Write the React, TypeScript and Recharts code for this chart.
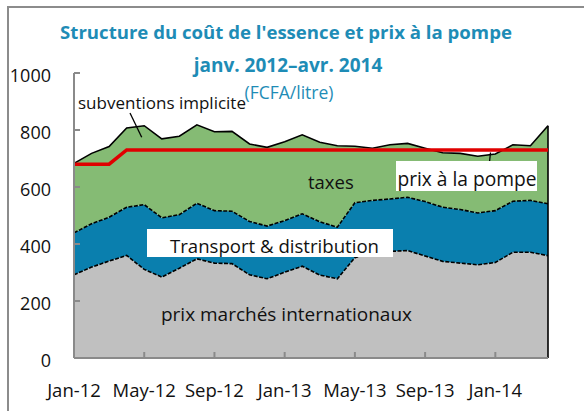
import React from 'react';
import { ComposedChart, Area, Line, XAxis, YAxis, ReferenceLine } from 'recharts';

const months = [
  'Jan-12', 'Feb-12', 'Mar-12', 'Apr-12', 'May-12', 'Jun-12', 'Jul-12', 'Aug-12', 'Sep-12', 'Oct-12', 'Nov-12', 'Dec-12',
  'Jan-13', 'Feb-13', 'Mar-13', 'Apr-13', 'May-13', 'Jun-13', 'Jul-13', 'Aug-13', 'Sep-13', 'Oct-13', 'Nov-13', 'Dec-13',
  'Jan-14', 'Feb-14', 'Mar-14', 'Apr-14',
];
const prixInternationaux = [292, 319, 340, 360, 311, 284, 315, 348, 333, 331, 292, 278, 301, 322, 291, 278, 352, 371, 374, 377, 358, 339, 333, 327, 335, 371, 371, 359];
const transportDistribution = [147, 152, 154, 169, 227, 208, 188, 195, 184, 184, 187, 185, 181, 184, 187, 181, 193, 182, 184, 187, 191, 190, 188, 182, 182, 179, 182, 182];
const taxesEtSubventions = [244, 247, 248, 278, 277, 277, 275, 275, 277, 280, 272, 276, 277, 277, 279, 286, 198, 183, 190, 189, 187, 191, 197, 199, 199, 198, 192, 274];
const prixPompe = [680, 680, 680, 730, 730, 730, 730, 730, 730, 730, 730, 730, 730, 730, 730, 730, 730, 730, 730, 730, 730, 730, 730, 730, 730, 730, 730, 730];
const yTicks = [0, 200, 400, 600, 800, 1000];

const data = months.map((m, i) => ({
  month: m,
  intl: prixInternationaux[i],
  transport: transportDistribution[i],
  taxes: taxesEtSubventions[i],
  pump: prixPompe[i],
  b1: prixInternationaux[i],
  b2: prixInternationaux[i] + transportDistribution[i],
  b3: prixInternationaux[i] + transportDistribution[i] + taxesEtSubventions[i],
}));

const FONT = '"Open Sans", sans-serif';
const AXIS = '#8a8a8a';
const TEAL = '#1e8cb6';
const GREY = '#c0c0c0';
const BLUE = '#0a7fae';
const GREEN = '#85bb74';
const RED = '#e00000';

const XTick = (props: any) => {
  const { x, y, payload, index } = props;
  return (
    <g>
      {index !== 0 && <line x1={x} y1={y} x2={x} y2={y - 6} stroke={AXIS} strokeWidth={2} />}
      <text x={x} y={y + 39} textAnchor="middle" fontFamily={FONT} fontSize={18.5} fill="#111">
        {payload.value}
      </text>
    </g>
  );
};

const YTick = (props: any) => {
  const { x, y, payload } = props;
  return (
    <g>
      <line x1={x} y1={y} x2={x + 6} y2={y} stroke={AXIS} strokeWidth={2} />
      <text x={x - 23} y={y + 9} textAnchor="end" fontFamily={FONT} fontSize={18} fill="#111">
        {payload.value}
      </text>
    </g>
  );
};

export default function App() {
  const last = data.length - 1;
  return (
    <div style={{ position: 'absolute', left: 0, top: 0, width: 584, height: 411, background: '#fff' }}>
      <ComposedChart
        width={584}
        height={411}
        data={data}
        margin={{ top: 73, right: 36, bottom: 23, left: 0 }}
      >
        <XAxis
          dataKey="month"
          scale="point"
          padding={{ left: 0, right: 0 }}
          interval={3}
          tickLine={false}
          tickSize={0}
          tickMargin={0}
          height={30}
          axisLine={{ stroke: AXIS, strokeWidth: 2 }}
          tick={<XTick />}
        />
        <YAxis
          domain={[0, 1000]}
          ticks={yTicks}
          width={74}
          tickLine={false}
          tickSize={0}
          tickMargin={0}
          axisLine={{ stroke: AXIS, strokeWidth: 2 }}
          tick={<YTick />}
        />
        <Area type="linear" dataKey="intl" stackId="s" fill={GREY} fillOpacity={1} stroke="none" isAnimationActive={false} />
        <Area type="linear" dataKey="transport" stackId="s" fill={BLUE} fillOpacity={1} stroke="none" isAnimationActive={false} />
        <Area type="linear" dataKey="taxes" stackId="s" fill={GREEN} fillOpacity={1} stroke="none" isAnimationActive={false} />
        <Line type="linear" dataKey="b1" stroke="#000" strokeWidth={1.6} strokeDasharray="4 1.5" dot={false} isAnimationActive={false} />
        <Line type="linear" dataKey="b2" stroke="#000" strokeWidth={1.6} strokeDasharray="4 1.5" dot={false} isAnimationActive={false} />
        <Line type="linear" dataKey="b3" stroke="#000" strokeWidth={1.6} dot={false} isAnimationActive={false} />
        <ReferenceLine
          segment={[{ x: months[0], y: 0 }, { x: months[0], y: data[0].b3 }]}
          stroke="#000"
          strokeWidth={1.6}
        />
        <ReferenceLine
          segment={[{ x: months[last], y: 0 }, { x: months[last], y: data[last].b3 }]}
          stroke="#000"
          strokeWidth={1.6}
        />
        <Line type="linear" dataKey="pump" stroke={RED} strokeWidth={3.5} dot={false} isAnimationActive={false} />
      </ComposedChart>
      <svg width={584} height={411} style={{ position: 'absolute', left: 0, top: 0, pointerEvents: 'none' }}>
        <rect x={8} y={7} width={600} height={420} fill="none" stroke="#8c8c8c" strokeWidth={2} />
        <text x={286} y={39} textAnchor="middle" fontFamily={FONT} fontWeight="bold" fontSize={18.6} fill={TEAL}>
          Structure du coût de l'essence et prix à la pompe
        </text>
        <text x={288} y={72} textAnchor="middle" fontFamily={FONT} fontWeight="bold" fontSize={19} fill={TEAL}>
          janv. 2012–avr. 2014
        </text>
        <text x={289} y={99} textAnchor="middle" fontFamily={FONT} fontSize={17.5} fill={TEAL}>
          (FCFA/litre)
        </text>
        <text x={78} y={109} fontFamily={FONT} fontSize={17} fill="#111">subventions implicite</text>
        <line x1={130} y1={113} x2={141.7} y2={137.3} stroke="#000" strokeWidth={1.3} />
        <text x={308} y={189} fontFamily={FONT} fontSize={18.5} fill="#111">taxes</text>
        <line x1={490.5} y1={152.5} x2={489.5} y2={162} stroke="#000" strokeWidth={1.3} />
        <rect x={396} y={161} width={141} height={30} fill="#fff" />
        <text x={467} y={186} textAnchor="middle" fontFamily={FONT} fontSize={19.2} fill="#111">prix à la pompe</text>
        <rect x={147} y={229} width={246} height={28} fill="#fff" />
        <text x={274.5} y={253} textAnchor="middle" fontFamily={FONT} fontSize={18.6} fill="#111">Transport &amp; distribution</text>
        <text x={286.5} y={321} textAnchor="middle" fontFamily={FONT} fontSize={19} fill="#111">prix marchés internationaux</text>
      </svg>
    </div>
  );
}
